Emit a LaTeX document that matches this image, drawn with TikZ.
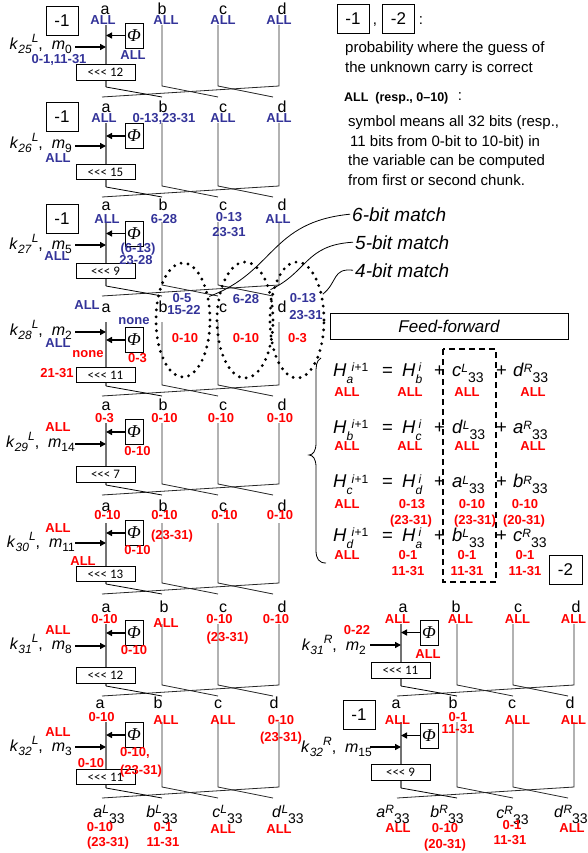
\documentclass[tikz,border=0pt]{standalone}
\usepackage{fontspec}
\setmainfont{Liberation Sans}
\newfontfamily\serifit{Liberation Serif}
\newfontfamily\carl{Carlito}
\usetikzlibrary{arrows.meta,shapes.geometric}
\definecolor{lblue}{HTML}{333399}
\definecolor{lred}{HTML}{FF0000}
\newcommand\fs[1]{\fontsize{#1}{#1}\selectfont}
\newcommand\upx[2][6pt]{\raisebox{#1}{\fs{12}#2}}
\newcommand\dnx[2][-4pt]{\raisebox{#1}{\fs{12}#2}}
\newcommand\kk[3]{\textit{k}\dnx{\textit{#1}}\upx[7pt]{\textit{#2}},\ \ \textit{m}\dnx{#3}}
\newcommand\vv[2]{\textit{#1}\upx[3.5pt]{\textit{#2}}\raisebox{-6pt}{\fs{14}33}}
\newcommand\HH[3]{\textit{H}\rlap{\raisebox{-7pt}{\fs{12}\textit{#1}}}\kern#3\upx[4.5pt]{#2}}
\tikzset{
 every node/.style={inner sep=0pt},
 aline/.style={draw=black!55, line width=1.3pt},
 bline/.style={draw=black!85, line width=0.8pt},
 pline/.style={draw=black, line width=0.8pt},
 arr/.style={-{Triangle[length=6pt,width=6pt]}, line width=1.5pt},
 phibox/.style={draw, line width=0.8pt, minimum width=18pt, minimum height=25pt, font=\serifit\itshape\fs{18}},
 rotbox/.style={draw, fill=white, line width=0.8pt, minimum width=59pt, minimum height=15.5pt, font=\carl\fs{13}},
 onebox/.style={draw, line width=0.8pt, minimum width=32pt, minimum height=29pt, font=\fs{17}},
 lab/.style={font=\fs{16}, anchor=base},
 bl/.style={text=lblue, font=\bfseries\fs{13}, anchor=base},
 rd/.style={text=lred, font=\bfseries\fs{13}, anchor=base},
 klab/.style={font=\fs{16}, anchor=base east},
 outl/.style={font=\fs{16}, anchor=base},
 eqt/.style={font=\fs{18.5}, anchor=base west},
 leg/.style={font=\fs{15}, anchor=base west},
 match/.style={font=\itshape\fs{19}, anchor=base west, inner sep=2pt},
 ell/.style={ellipse, draw, line width=3.2pt, dash pattern=on 0pt off 7pt, line cap=round},
 leader/.style={draw, line width=0.8pt},
}
\newcommand\skel[8]{%
 \coordinate (#1at) at ({106+#2},#3);
 \coordinate (#1ab) at ({106+#2},{#7+1});
 \coordinate (#1bt) at ({162+#2},#3);
 \coordinate (#1bb) at ({162+#2},#7);
 \coordinate (#1ct) at ({218+#2},#3);
 \coordinate (#1cb) at ({218+#2},#7);
 \coordinate (#1dt) at ({279+#2},#3);
 \coordinate (#1db) at ({279+#2},#7);
 \coordinate (#1pb) at ({162+#2},{#7+11});
 \coordinate (#1pc) at ({218+#2},{#7+11});
 \coordinate (#1pd) at ({273+#2},{#7+11});
 \coordinate (#1pa) at ({102+#2},{#7+11});
 \draw[bline] (#1bt) -- (#1bb) -- (#1pc);
 \draw[bline] (#1ct) -- (#1cb) -- (#1pd);
 \draw[bline] (#1dt) -- (#1db) -- (#1pa);
 \draw[aline] (#1at) -- (#1ab);
 \draw[pline] (#1ab) -- (#1pb);
 \node[phibox] (#1phi) at ({134+#2},#4) {Φ};
 \draw[arr] (#1phi) -- (#1phi -| #1at);
 \coordinate (#1ks) at ({75+#2},#5);
 \draw[arr] (#1ks) -- (#1ks -| #1at);
 \node[rotbox] (#1rot) at ({105.5+#2},#6) {<{}<{}< #8};
}
\begin{document}
\begin{tikzpicture}[x=1pt,y=-1pt]
\useasboundingbox (0,0) rectangle (587,853);

% ---------- skeletons ----------
\skel{s1}{0}{25}{35.5}{47}{72.5}{86}{12}
\skel{s2}{0}{123}{136}{146}{172}{186}{15}
\skel{s3}{0}{222}{233.5}{245}{271}{285}{9}
\skel{s4}{0}{322}{340}{332}{375}{385}{11}
\skel{s5}{0}{423}{432}{444}{474.5}{484}{7}
\skel{s6}{0}{523}{533}{543}{574}{583}{13}
\skel{s7}{0}{624}{633}{646}{675.5}{685}{12}
\skel{s8}{0}{722}{735}{747}{777}{787}{11}
\skel{r1}{295}{624}{632.5}{645}{670.5}{685}{11}
\skel{r2}{295}{722}{735.5}{747}{772.5}{787}{9}

% ---------- step 1 ----------
\node[lab] (s1la) at (105,15) {a};
\node[lab] (s1lb) at (162,15) {b};
\node[lab] (s1lc) at (223,15) {c};
\node[lab] (s1ld) at (282,15) {d};
\node[bl] (s1xa) at (103,24.5) {ALL};
\node[bl] (s1xb) at (166,24.5) {ALL};
\node[bl] (s1xc) at (223,24.5) {ALL};
\node[bl] (s1xd) at (279,24.5) {ALL};
\node[klab] (s1k) at (72,50) {\kk{25}{L}{0}};
\node[bl] (s1xk) at (59,64) {0-1,11-31};
\node[bl] (s1xp) at (133,59.5) {ALL};
\node[onebox] (s1one) at (62,20.5) {-1};

% ---------- step 2 ----------
\node[lab] (s2la) at (106,113) {a};
\node[lab] (s2lb) at (163,113) {b};
\node[lab] (s2lc) at (223,113) {c};
\node[lab] (s2ld) at (282,113) {d};
\node[bl] (s2xa) at (104,122.5) {ALL};
\node[bl] (s2xb) at (164,122.5) {0-13,23-31};
\node[bl] (s2xc) at (223,122.5) {ALL};
\node[bl] (s2xd) at (279,122.5) {ALL};
\node[klab] (s2k) at (72,149) {\kk{26}{L}{9}};
\node[bl] (s2xk) at (58,163) {ALL};
\node[onebox] (s2one) at (62,117) {-1};

% ---------- step 3 ----------
\node[lab] (s3la) at (106,210) {a};
\node[lab] (s3lb) at (163,210) {b};
\node[lab] (s3lc) at (223,210) {c};
\node[lab] (s3ld) at (282,210) {d};
\node[bl] (s3xa) at (107,223.5) {ALL};
\node[bl] (s3xb) at (164,223.5) {6-28};
\node[bl] (s3xc) at (229,221.5) {0-13};
\node[bl] (s3xc2) at (229,236.5) {23-31};
\node[bl] (s3xd) at (278,223.5) {ALL};
\node[klab] (s3k) at (72,249) {\kk{27}{L}{5}};
\node[bl] (s3xk) at (57,260) {ALL};
\node[bl] (s3xp) at (138,252.5) {(6-13)};
\node[bl] (s3xp2) at (136,264.5) {23-28};
\node[onebox] (s3one) at (62,219) {-1};

% ---------- step 4 ----------
\node[lab] (s4la) at (106,312) {a};
\node[lab] (s4lb) at (163,312) {b};
\node[lab] (s4lc) at (223,312) {c};
\node[lab] (s4ld) at (282,312) {d};
\node[bl] (s4xa) at (87,309.5) {ALL};
\node[bl] (s4xb) at (182,302.5) {0-5};
\node[bl] (s4xb2) at (184,314.5) {15-22};
\node[bl] (s4xc) at (246,303.5) {6-28};
\node[bl] (s4xd) at (303,302.5) {0-13};
\node[bl] (s4xd2) at (306,319.5) {23-31};
\node[rd] (s4rb) at (185,342.5) {0-10};
\node[rd] (s4rc) at (246,342.5) {0-10};
\node[rd] (s4rd) at (297.5,342.5) {0-3};
\node[bl] (s4xp) at (134,324.5) {none};
\node[rd] (s4rp) at (137.5,362.5) {0-3};
\node[klab] (s4k) at (72,335) {\kk{28}{L}{2}};
\node[bl] (s4xk) at (58,347) {ALL};
\node[rd] (s4rk) at (88,357.5) {none};
\node[rd] (s4rk2) at (57,377.5) {21-31};

% ---------- step 5 ----------
\node[lab] (s5la) at (106,410) {a};
\node[lab] (s5lb) at (163,410) {b};
\node[lab] (s5lc) at (223,410) {c};
\node[lab] (s5ld) at (282,410) {d};
\node[rd] (s5ra) at (104.5,422.5) {0-3};
\node[rd] (s5rb) at (164.5,422.5) {0-10};
\node[rd] (s5rc) at (221,422.5) {0-10};
\node[rd] (s5rd) at (280,422.5) {0-10};
\node[rd] (s5rk) at (58,431.5) {ALL};
\node[klab] (s5k) at (75,447) {\kk{29}{L}{14}};
\node[rd] (s5rp) at (137.5,455.5) {0-10};

% ---------- step 6 ----------
\node[lab] (s6la) at (106,511) {a};
\node[lab] (s6lb) at (163,511) {b};
\node[lab] (s6lc) at (223,511) {c};
\node[lab] (s6ld) at (282,511) {d};
\node[rd] (s6ra) at (107.5,519.5) {0-10};
\node[rd] (s6rb) at (164.5,519.5) {0-10};
\node[rd] (s6rb2) at (172,539.5) {(23-31)};
\node[rd] (s6rc) at (224.5,519.5) {0-10};
\node[rd] (s6rd) at (280,519.5) {0-10};
\node[rd] (s6rk) at (58,532.5) {ALL};
\node[rd] (s6rk2) at (83,565.5) {ALL};
\node[klab] (s6k) at (75,547) {\kk{30}{L}{11}};
\node[rd] (s6rp) at (137.5,554.5) {0-10};

% ---------- step 7 ----------
\node[lab] (s7la) at (106,612) {a};
\node[lab] (s7lb) at (164,612) {b};
\node[lab] (s7lc) at (223,612) {c};
\node[lab] (s7ld) at (282,612) {d};
\node[rd] (s7ra) at (104.5,623.5) {0-10};
\node[rd] (s7rb) at (166,627.5) {ALL};
\node[rd] (s7rc) at (219.5,623.5) {0-10};
\node[rd] (s7rc2) at (227.5,641.5) {(23-31)};
\node[rd] (s7rd) at (276,623.5) {0-10};
\node[rd] (s7rk) at (58,634.5) {ALL};
\node[klab] (s7k) at (72,649) {\kk{31}{L}{8}};
\node[rd] (s7rp) at (134,654.5) {0-10};

% ---------- step 8 ----------
\node[lab] (s8la) at (100,708) {a};
\node[lab] (s8lb) at (158,708) {b};
\node[lab] (s8lc) at (218,708) {c};
\node[lab] (s8ld) at (274,708) {d};
\node[rd] (s8ra) at (101.7,721.5) {0-10};
\node[rd] (s8rb) at (166,724.5) {ALL};
\node[rd] (s8rc) at (223,724.5) {ALL};
\node[rd] (s8rd) at (281,724.5) {0-10};
\node[rd] (s8rd2) at (281,741.5) {(23-31)};
\node[rd] (s8rk) at (58,736.5) {ALL};
\node[klab] (s8k) at (72,751) {\kk{32}{L}{3}};
\node[rd] (s8rp) at (135,756.5) {0-10,};
\node[rd] (s8rp2) at (141,774.5) {(23-31)};
\node[rd] (s8rk2) at (91,767.5) {0-10};

% ---------- left outputs ----------
\node[outl] (oLa) at (109,817) {\vv{a}{L}};
\node[outl] (oLb) at (162,817) {\vv{b}{L}};
\node[outl] (oLc) at (227.5,817) {\vv{c}{L}};
\node[outl] (oLd) at (288,817) {\vv{d}{L}};
\node[rd] (oLa1) at (100,831.5) {0-10};
\node[rd] (oLa2) at (108,846.5) {(23-31)};
\node[rd] (oLb1) at (163,831.5) {0-1};
\node[rd] (oLb2) at (163,846.5) {11-31};
\node[rd] (oLc1) at (223,833.5) {ALL};
\node[rd] (oLd1) at (279,833.5) {ALL};

% ---------- right step 1 ----------
\node[lab] (r1la) at (403,612) {a};
\node[lab] (r1lb) at (456,612) {b};
\node[lab] (r1lc) at (518,612) {c};
\node[lab] (r1ld) at (576,612) {d};
\node[rd] (r1ra) at (397.5,623.5) {ALL};
\node[rd] (r1rb) at (460.5,623.5) {ALL};
\node[rd] (r1rc) at (517.5,623.5) {ALL};
\node[rd] (r1rd) at (573.5,623.5) {ALL};
\node[rd] (r1rk) at (357,634.5) {0-22};
\node[rd] (r1rp) at (428,658.5) {ALL};
\node[klab] (r1k) at (366,650) {\kk{31}{R}{2}};

% ---------- right step 2 ----------
\node[lab] (r2la) at (396,708) {a};
\node[lab] (r2lb) at (453,708) {b};
\node[lab] (r2lc) at (512,708) {c};
\node[lab] (r2ld) at (570,708) {d};
\node[rd] (r2ra) at (397.5,724.5) {ALL};
\node[rd] (r2rb) at (458,721.5) {0-1};
\node[rd] (r2rb2) at (458,733.5) {11-31};
\node[rd] (r2rc) at (517.5,724.5) {ALL};
\node[rd] (r2rd) at (573.5,724.5) {ALL};
\node[onebox] (r2one) at (359,715) {-1};
\node[klab] (r2k) at (372,752) {\kk{32}{R}{15}};

% ---------- right outputs ----------
\node[outl] (oRa) at (393,817) {\vv{a}{R}};
\node[outl] (oRb) at (447,817) {\vv{b}{R}};
\node[outl] (oRc) at (512.5,818) {\vv{c}{R}};
\node[outl, anchor=base west] (oRd) at (554,817) {\vv{d}{R}};
\node[rd] (oRa1) at (398,832.5) {ALL};
\node[rd] (oRb1) at (445,832.5) {0-10};
\node[rd] (oRb2) at (445,848.5) {(20-31)};
\node[rd] (oRc1) at (512,829.5) {0-1};
\node[rd] (oRc2) at (510,844.5) {11-31};
\node[rd] (oRd1) at (572,832.5) {ALL};

% ---------- legend ----------
\node[onebox] (g1) at (353,19) {-1};
\node[font=\fs{15}] (gc) at (375,25) {,};
\node[onebox] (g2) at (398.5,19) {-2};
\node[font=\fs{15}] (gcol) at (421,21) {:};
\node[leg] (gt1) at (345,53) {probability where the guess of};
\node[leg] (gt2) at (345,72.5) {the unknown carry is correct};
\node[anchor=base west, font=\bfseries\fs{12.5}] (gt3) at (344,102) {ALL\ \ (resp., 0–10)};
\node[font=\fs{15}] (gcol2) at (460,97) {:};
\node[leg] (gt4) at (348,127) {symbol means all 32 bits (resp.,};
\node[leg] (gt5) at (350,146.5) {11 bits from 0-bit to 10-bit) in};
\node[leg] (gt6) at (348,166) {the variable can be computed};
\node[leg] (gt7) at (348,185.5) {from first or second chunk.};

% ---------- ellipses and matches ----------
\node[ell, minimum width=54pt, minimum height=114pt] (e1) at (183,320) {};
\node[ell, minimum width=56pt, minimum height=116pt] (e2) at (245,320) {};
\node[ell, minimum width=54pt, minimum height=116pt] (e3) at (297,320) {};
\node[match] (m6) at (350,221) {6-bit match};
\node[match] (m5) at (353,249) {5-bit match};
\node[match] (m4) at (353,277) {4-bit match};
\draw[leader] (e1.42) .. controls (275,272) and (270,222) .. (m6.west);
\draw[leader] (e2.50) .. controls (308,272) and (305,245) .. (m5.west);
\draw[leader] (e3.45) .. controls (338,282) and (332,268) .. (m4.west);

% ---------- feed-forward ----------
\node[draw, line width=0.8pt, minimum width=238pt, minimum height=26pt, font=\itshape\fs{17}] (ff) at (449,326) {Feed-forward};
\draw[line width=0.8pt] (321,358) .. controls (316,361) and (316,366) .. (316,375) -- (316,443) .. controls (316,451) and (313,455) .. (309,455) .. controls (313,455) and (316,459) .. (316,467) -- (316,550) .. controls (316,559) and (319,563) .. (326,563);
\draw[line width=2pt, dash pattern=on 6pt off 4pt] (443,349) rectangle (496,582);
\node[onebox, minimum width=33pt] (g3) at (565.5,570) {-2};

% rows
\foreach \b/\s/\t/\p/\q/\nm in {376/a/b/c/d/q1, 433/b/c/d/a/q2, 487.5/c/d/a/b/q3, 541/d/a/b/c/q4}{
 \node[eqt] (\nm h1) at (333,\b) {\HH{\s}{\textit{i}+1}{5pt}};
 \node[eqt] (\nm eq) at (382,\b) {=};
 \node[eqt] (\nm h2) at (402,\b) {\HH{\t}{\textit{i}}{3pt}};
 \node[eqt] (\nm p1) at (434,\b) {+};
 \node[eqt] (\nm v3) at (452,\b) {\vv{\p}{L}};
 \node[eqt] (\nm p2) at (496,\b) {+};
 \node[eqt] (\nm v4) at (513,\b) {\vv{\q}{R}};
}
\node[rd] (q1r1) at (347,396.5) {ALL};
\node[rd] (q1r2) at (410,396.5) {ALL};
\node[rd] (q1r3) at (467,396.5) {ALL};
\node[rd] (q1r4) at (533,396.5) {ALL};
\node[rd] (q2r1) at (347,450.5) {ALL};
\node[rd] (q2r2) at (410,450.5) {ALL};
\node[rd] (q2r3) at (467,450.5) {ALL};
\node[rd] (q2r4) at (533,450.5) {ALL};
\node[rd] (q3r1) at (347,508.5) {ALL};
\node[rd] (q3r2) at (412,508.5) {0-13};
\node[rd] (q3r3) at (472,508.5) {0-10};
\node[rd] (q3r4) at (525,508.5) {0-10};
\node[rd] (q3s2) at (411,524.5) {(23-31)};
\node[rd] (q3s3) at (475,524.5) {(23-31)};
\node[rd] (q3s4) at (524,524.5) {(20-31)};
\node[rd] (q4r1) at (347,559.5) {ALL};
\node[rd] (q4r2) at (408,559.5) {0-1};
\node[rd] (q4r3) at (467,559.5) {0-1};
\node[rd] (q4r4) at (525,559.5) {0-1};
\node[rd] (q4s2) at (408,575.5) {11-31};
\node[rd] (q4s3) at (467,575.5) {11-31};
\node[rd] (q4s4) at (525,575.5) {11-31};
\end{tikzpicture}
\end{document}
